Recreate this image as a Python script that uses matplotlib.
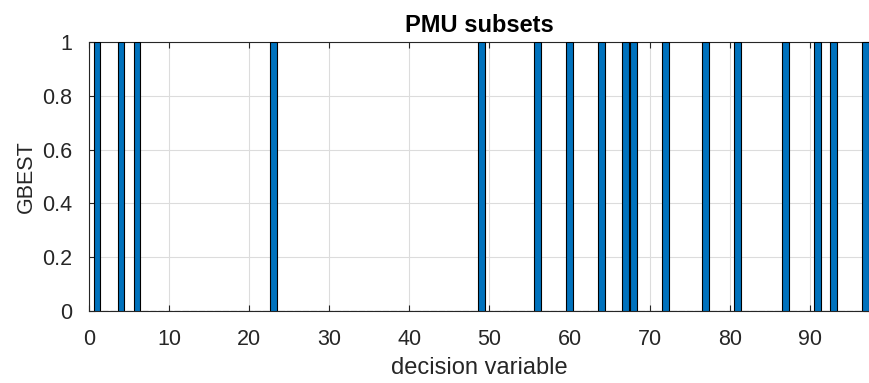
import matplotlib.pyplot as plt
import numpy as np

# %% data
n_var = 97
selected = [1, 4, 6, 23, 49, 56, 60, 64, 67, 68, 72, 77, 81, 87, 91, 93, 97]
gbest_sel = [1] * len(selected)

x = np.arange(1, n_var + 1)
gbest = np.zeros(n_var)
for s, g in zip(selected, gbest_sel):
    gbest[s - 1] = g

# %% plot
plt.rcParams['font.family'] = ['Liberation Sans', 'DejaVu Sans']
fig = plt.figure(figsize=(8.7, 3.83), dpi=100)
ax = fig.add_axes([89 / 870, 1 - 311 / 383, 780 / 870, 269 / 383])

ax.bar(x, gbest, width=0.85, color='#0072BD', edgecolor='black', linewidth=0.8,
       zorder=3)

ax.set_xlim(0, 97.4)
ax.set_ylim(0, 1)
ax.set_xticks(np.arange(0, 91, 10))
ax.set_yticks([0, 0.2, 0.4, 0.6, 0.8, 1])
ax.set_yticklabels(['0', '0.2', '0.4', '0.6', '0.8', '1'])
ax.grid(True, color='#dcdcdc', linewidth=0.8, zorder=0)
ax.tick_params(direction='in', labelsize=15.5, colors='#262626', length=4,
               top=True, right=True)
ax.tick_params(axis='x', pad=13)
ax.tick_params(axis='y', pad=12)
for sp in ax.spines.values():
    sp.set_color('#262626')
    sp.set_linewidth(0.8)

ax.set_title('PMU subsets', fontsize=17, fontweight='bold', pad=7)
ax.set_xlabel('decision variable', fontsize=17, color='#262626', labelpad=5)
ax.set_ylabel('GBEST', fontsize=15.5, color='#262626', labelpad=4)

fig.savefig('out.png', dpi=100)
